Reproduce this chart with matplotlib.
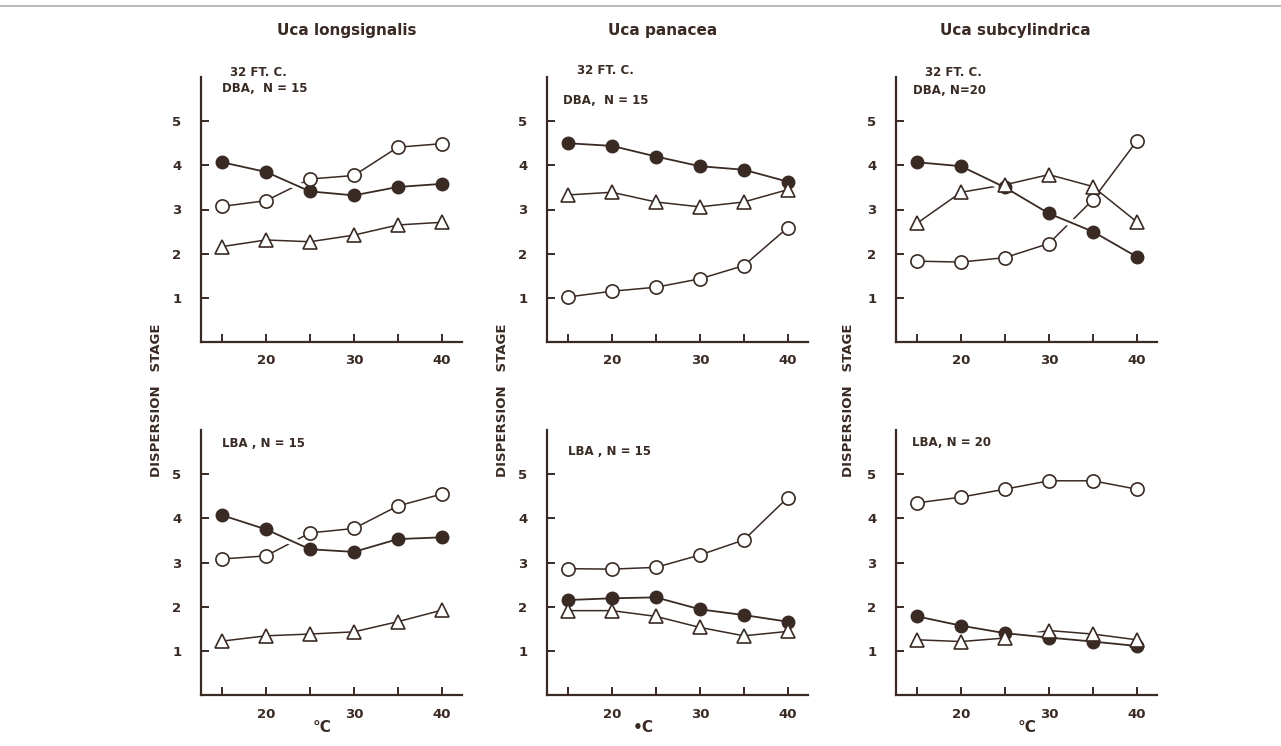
import matplotlib
matplotlib.use("Agg")
import matplotlib.pyplot as plt
import matplotlib.patheffects as pe
from matplotlib.lines import Line2D

# ---------------- data ----------------
temps = [15, 20, 25, 30, 35, 40]
species = ["Uca longsignalis", "Uca panacea", "Uca subcylindrica"]
xlabels = ["°C", "•C", "°C"]
top_notes = [("32 FT. C.", "DBA,  N = 15"), ("32 FT. C.", "DBA,  N = 15"), ("32 FT. C.", "DBA, N=20")]
bottom_notes = ["LBA , N = 15", "LBA , N = 15", "LBA, N = 20"]

# DBA (top row)
dba_filled = [
    [4.07, 3.85, 3.41, 3.32, 3.51, 3.58],
    [4.50, 4.44, 4.20, 3.98, 3.90, 3.63],
    [4.07, 3.98, 3.50, 2.91, 2.50, 1.93],
]
dba_open = [
    [3.07, 3.20, 3.69, 3.77, 4.41, 4.49],
    [1.02, 1.15, 1.24, 1.43, 1.73, 2.59],
    [1.83, 1.81, 1.91, 2.23, 3.22, 4.55],
]
dba_tri = [
    [2.16, 2.31, 2.27, 2.42, 2.65, 2.71],
    [3.33, 3.39, 3.17, 3.06, 3.17, 3.45],
    [2.69, 3.39, 3.56, 3.79, 3.52, 2.72],
]
# LBA (bottom row)
lba_filled = [
    [4.07, 3.75, 3.30, 3.24, 3.53, 3.57],
    [2.15, 2.19, 2.21, 1.94, 1.81, 1.66],
    [1.78, 1.57, 1.40, 1.30, 1.21, 1.11],
]
lba_open = [
    [3.08, 3.15, 3.67, 3.77, 4.28, 4.55],
    [2.86, 2.85, 2.89, 3.17, 3.51, 4.47],
    [4.35, 4.48, 4.66, 4.85, 4.85, 4.66],
]
lba_tri = [
    [1.22, 1.34, 1.38, 1.43, 1.66, 1.92],
    [1.91, 1.91, 1.78, 1.53, 1.34, 1.44],
    [1.25, 1.21, 1.29, 1.46, 1.38, 1.25],
]

INK = "#3a2a24"
W, H = 1281, 746

fig = plt.figure(figsize=(W / 100, H / 100), dpi=100)
fig.patch.set_facecolor("white")
plt.rcParams["font.family"] = ["DejaVu Sans"]

# light rule along the top of the scan
fig.add_artist(Line2D([0, 1], [1 - 6 / H, 1 - 6 / H], transform=fig.transFigure,
                      color="#b9b3ae", linewidth=1.3))

col_x = [201, 547, 896]
ax_w = 261
row_bottom = [342, 695]
ax_h = 265


def fx(px):
    return px / W


def fy(py):
    return 1 - py / H


def draw_panel(ax, filled, opn, tri):
    ax.set_xlim(12.6, 42.3)
    ax.set_ylim(0, 6)
    for s in ["top", "right"]:
        ax.spines[s].set_visible(False)
    for s in ["left", "bottom"]:
        ax.spines[s].set_color(INK)
        ax.spines[s].set_linewidth(1.6)
    ax.set_xticks(temps)
    ax.set_xticklabels(["", "20", "", "30", "", "40"])
    ax.set_yticks([1, 2, 3, 4, 5])
    ax.set_yticklabels(["1", "2", "3", "4", "5"])
    ax.tick_params(axis="both", direction="in", length=6, width=1.4, colors=INK,
                   labelsize=9.5, labelcolor=INK)
    ax.tick_params(axis="y", pad=14)
    ax.tick_params(axis="x", pad=9)
    for lab in ax.get_xticklabels() + ax.get_yticklabels():
        lab.set_fontweight("bold")

    lw = 1.1
    ax.plot(temps, tri, color=INK, lw=lw, zorder=2)
    ax.plot(temps, opn, color=INK, lw=lw, zorder=2)
    ax.plot(temps, filled, color=INK, lw=1.3, zorder=3,
            path_effects=[pe.Stroke(linewidth=6, foreground="white"), pe.Normal()])
    ax.plot(temps, filled, ls="none", marker="o", ms=9, mfc=INK, mec=INK, zorder=4)
    ax.plot(temps, opn, ls="none", marker="o", ms=9.5, mfc="white", mec=INK, mew=1.2, zorder=5)
    ax.plot(temps, tri, ls="none", marker="^", ms=10, mfc="white", mec=INK, mew=1.2, zorder=5)


for c in range(3):
    for r, (F, O, T) in enumerate([(dba_filled, dba_open, dba_tri), (lba_filled, lba_open, lba_tri)]):
        ax = fig.add_axes([fx(col_x[c]), fy(row_bottom[r]), ax_w / W, ax_h / H])
        draw_panel(ax, F[c], O[c], T[c])

# titles
title_x = [347, 663, 1015]
for c in range(3):
    fig.text(fx(title_x[c]), fy(31), species[c], ha="center", va="center",
             fontsize=11, fontweight="bold", color=INK)

# top-row notes
note1_pos = [(230, 72), (577, 71), (925, 72)]
note2_pos = [(222, 89), (563, 100), (913, 90)]
for c in range(3):
    fig.text(fx(note1_pos[c][0]), fy(note1_pos[c][1]), top_notes[c][0], ha="left", va="center",
             fontsize=8.5, fontweight="bold", color=INK)
    fig.text(fx(note2_pos[c][0]), fy(note2_pos[c][1]), top_notes[c][1], ha="left", va="center",
             fontsize=8.5, fontweight="bold", color=INK)

# bottom-row notes
note3_pos = [(222, 444), (568, 452), (912, 443)]
for c in range(3):
    fig.text(fx(note3_pos[c][0]), fy(note3_pos[c][1]), bottom_notes[c], ha="left", va="center",
             fontsize=8.5, fontweight="bold", color=INK)

# y labels
ylab_x = [156, 502, 849]
for c in range(3):
    fig.text(fx(ylab_x[c]), fy(400), "DISPERSION   STAGE", rotation=90, ha="center", va="center",
             fontsize=9.5, fontweight="bold", color=INK)

# x labels
xlab_x = [322, 643, 1027]
for c in range(3):
    fig.text(fx(xlab_x[c]), fy(727), xlabels[c], ha="center", va="center",
             fontsize=11, fontweight="bold", color=INK)

fig.savefig("out.png", dpi=100, facecolor="white")
